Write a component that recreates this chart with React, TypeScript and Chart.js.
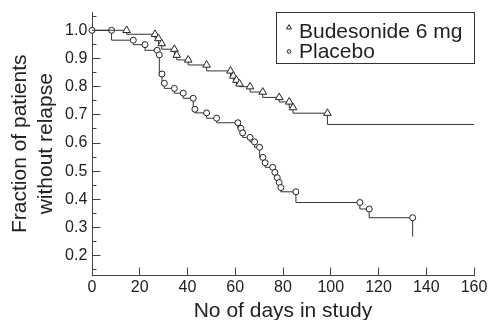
import React, { useEffect, useRef } from 'react';
import { Chart, registerables } from 'chart.js';

Chart.register(...registerables);

// Kaplan–Meier data: time of each marker (days) and the survival level the curve has there
// (the drop to the next level happens at that same time).
const budesonideDays = [0, 14.5, 26.4, 27.8, 29.2, 34.5, 35.5, 40.3, 48.0, 58.0, 59.2, 60.5, 61.8, 66.2, 71.5, 78.4, 82.6, 84.2, 98.6, 160];
const budesonideSurvival = [1.0, 1.0, 0.986, 0.971, 0.953, 0.933, 0.912, 0.895, 0.877, 0.856, 0.838, 0.823, 0.81, 0.80, 0.781, 0.762, 0.746, 0.726, 0.706, 0.666];

const placeboDays = [0, 8.2, 17.3, 22.2, 27.3, 28.2, 29.3, 30.3, 34.5, 38.2, 42.4, 43.1, 48.0, 52.2, 61.1, 62.4, 63.1, 66.2, 68.1, 70.2, 71.6, 72.5, 75.7, 76.6, 77.6, 78.4, 79.1, 85.4, 112.2, 116.1, 134.3, 134.3];
const placeboSurvival = [1.0, 1.0, 0.965, 0.949, 0.929, 0.913, 0.845, 0.812, 0.794, 0.777, 0.759, 0.72, 0.707, 0.688, 0.672, 0.652, 0.636, 0.62, 0.604, 0.585, 0.549, 0.53, 0.514, 0.496, 0.477, 0.46, 0.442, 0.427, 0.389, 0.366, 0.335, 0.268];

const seriesLabels = ['Budesonide 6 mg', 'Placebo'];
const xTickValues = [0, 20, 40, 60, 80, 100, 120, 140, 160];
const yTickValues = [0.2, 0.3, 0.4, 0.5, 0.6, 0.7, 0.8, 0.9, 1.0];
const yMinorTickValues = [0.15, 0.25, 0.35, 0.45, 0.55, 0.65, 0.75, 0.85, 0.95, 1.05];
const xTitle = 'No of days in study';
const yTitle = ['Fraction of patients', 'without relapse'];

const FONT = "'Liberation Sans', Arial, Helvetica, sans-serif";
const INK = '#222';
const AXIS = '#444';

const align = (p: number) => Math.round(p - 0.5) + 0.5;

const insideTicks = {
  id: 'insideTicks',
  beforeDatasetsDraw(chart: any) {
    const { ctx, chartArea, scales } = chart;
    const xs = scales.x;
    const ys = scales.y;
    const left = align(chartArea.left);
    const bottom = align(chartArea.bottom);
    ctx.save();
    ctx.strokeStyle = AXIS;
    ctx.lineWidth = 1;
    ctx.beginPath();
    yTickValues.forEach((v) => {
      const py = align(ys.getPixelForValue(v));
      ctx.moveTo(left, py);
      ctx.lineTo(left + 8, py);
    });
    yMinorTickValues.forEach((v) => {
      const py = align(ys.getPixelForValue(v));
      ctx.moveTo(left, py);
      ctx.lineTo(left + 4, py);
    });
    xTickValues.forEach((v) => {
      const px = align(xs.getPixelForValue(v));
      ctx.moveTo(px, bottom);
      ctx.lineTo(px, bottom - 8);
    });
    ctx.stroke();
    ctx.restore();
  },
};

const boxLegend = {
  id: 'boxLegend',
  afterDraw(chart: any) {
    const { ctx, chartArea } = chart;
    const boxW = 198;
    const boxH = 51;
    const bx = align(chartArea.right - boxW);
    const by = align(chartArea.top);
    ctx.save();
    ctx.fillStyle = '#fff';
    ctx.fillRect(bx, by, boxW, boxH);
    ctx.strokeStyle = '#333';
    ctx.lineWidth = 1;
    ctx.strokeRect(bx, by, boxW, boxH);

    const mx = bx + 12.5;
    // triangle
    const tr = 2.8;
    const ty = by + 15;
    ctx.beginPath();
    ctx.moveTo(mx, ty - tr);
    ctx.lineTo(mx + tr * Math.sin((2 * Math.PI) / 3), ty - tr * Math.cos((2 * Math.PI) / 3));
    ctx.lineTo(mx + tr * Math.sin((4 * Math.PI) / 3), ty - tr * Math.cos((4 * Math.PI) / 3));
    ctx.closePath();
    ctx.strokeStyle = INK;
    ctx.stroke();
    // circle
    ctx.beginPath();
    ctx.arc(mx, by + 39, 1.8, 0, Math.PI * 2);
    ctx.stroke();

    ctx.fillStyle = INK;
    ctx.font = `21px ${FONT}`;
    ctx.textAlign = 'left';
    ctx.textBaseline = 'alphabetic';
    const labels = chart.data.datasets.map((d: any) => d.label);
    ctx.fillText(labels[0], bx + 22.5, by + 25);
    ctx.fillText(labels[1], bx + 22.5, by + 45);
    ctx.restore();
  },
};

export default function App() {
  const canvasRef = useRef<HTMLCanvasElement | null>(null);

  useEffect(() => {
    document.body.style.margin = '0';
    const canvas = canvasRef.current;
    if (!canvas) return;

    const budesonideData = budesonideDays.map((d, i) => ({ x: d, y: budesonideSurvival[i] }));
    const placeboData = placeboDays.map((d, i) => ({ x: d, y: placeboSurvival[i] }));

    const chart = new Chart(canvas, {
      type: 'line',
      data: {
        datasets: [
          {
            label: seriesLabels[0],
            data: budesonideData,
            stepped: 'after',
            borderColor: '#333',
            borderWidth: 1,
            pointStyle: 'triangle',
            pointRadius: budesonideData.map((_, i) => (i === 0 || i === budesonideData.length - 1 ? 0 : 4.4)),
            pointBackgroundColor: '#fff',
            pointBorderColor: '#222',
            pointBorderWidth: 1,
            clip: false,
          } as any,
          {
            label: seriesLabels[1],
            data: placeboData,
            stepped: 'after',
            borderColor: '#333',
            borderWidth: 1,
            pointStyle: 'circle',
            pointRadius: placeboData.map((_, i) => (i === placeboData.length - 1 ? 0 : 3)),
            pointBackgroundColor: '#fff',
            pointBorderColor: '#222',
            pointBorderWidth: 1,
            clip: false,
          } as any,
        ],
      },
      options: {
        animation: false,
        responsive: false,
        devicePixelRatio: 1,
        events: [],
        layout: { padding: { top: 12, right: 17, bottom: 0, left: 0 } },
        plugins: {
          legend: { display: false },
          tooltip: { enabled: false },
        },
        scales: {
          x: {
            type: 'linear',
            min: 0,
            max: 160,
            bounds: 'data',
            afterBuildTicks: (s: any) => {
              s.ticks = xTickValues.map((v) => ({ value: v }));
            },
            afterFit: (s: any) => {
              s.height = 44.5;
              s.paddingLeft = 0;
              s.paddingRight = 0;
            },
            grid: { display: false, drawTicks: false },
            border: { display: true, color: AXIS, width: 1 },
            ticks: {
              padding: 2.6,
              color: INK,
              autoSkip: false,
              maxRotation: 0,
              font: { family: FONT, size: 16 },
              callback: (v: any) => String(v),
            },
            title: {
              display: true,
              text: xTitle,
              color: INK,
              font: { family: FONT, size: 21, lineHeight: 1 },
              padding: { top: 0, bottom: -1.5 },
            },
          },
          y: {
            type: 'linear',
            min: 0.13,
            max: 1.065,
            bounds: 'data',
            afterBuildTicks: (s: any) => {
              s.ticks = yTickValues.map((v) => ({ value: v }));
            },
            afterFit: (s: any) => {
              s.width = 92;
              s.paddingTop = 0;
              s.paddingBottom = 0;
            },
            grid: { display: false, drawTicks: false },
            border: { display: true, color: AXIS, width: 1 },
            ticks: {
              padding: 4.7,
              color: INK,
              autoSkip: false,
              font: { family: FONT, size: 16 },
              callback: (v: any) => Number(v).toFixed(1),
            },
            title: {
              display: true,
              text: yTitle,
              color: INK,
              font: { family: FONT, size: 21, lineHeight: 26 / 21 },
              padding: { top: 7.7, bottom: 0 },
            },
          },
        },
      } as any,
      plugins: [insideTicks, boxLegend],
    });

    return () => {
      chart.destroy();
    };
  }, []);

  return (
    <div style={{ width: 491, height: 320, position: 'relative', background: '#fff' }}>
      <canvas ref={canvasRef} width={491} height={320} />
    </div>
  );
}
